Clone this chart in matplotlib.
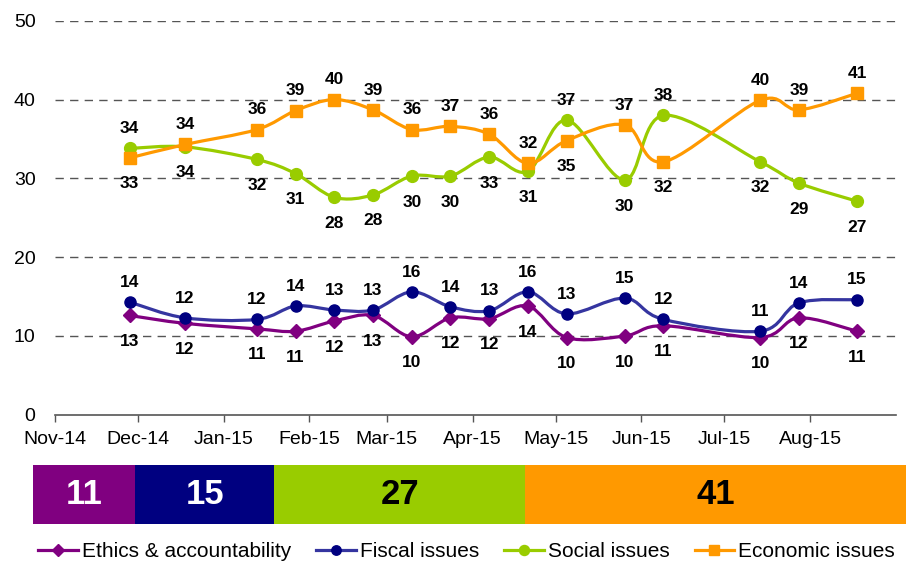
import matplotlib
matplotlib.use("Agg")
import matplotlib.pyplot as plt
import matplotlib.dates as mdates
import numpy as np
import pandas as pd
from matplotlib.path import Path
from matplotlib.patches import PathPatch
from matplotlib.lines import Line2D

plt.rcParams["font.family"] = ["Liberation Sans", "DejaVu Sans"]

# Fortnightly survey waves
dates = pd.to_datetime([
    "2014-11-28", "2014-12-18", "2015-01-13", "2015-01-27", "2015-02-10",
    "2015-02-24", "2015-03-10", "2015-03-24", "2015-04-07", "2015-04-21",
    "2015-05-05", "2015-05-26", "2015-06-09", "2015-07-14", "2015-07-28",
    "2015-08-18",
])

ethics = [12.6, 11.6, 10.9, 10.6, 11.9, 12.6, 9.9, 12.3, 12.2, 13.8,
          9.8, 10.0, 11.3, 9.8, 12.3, 10.6]
fiscal = [14.3, 12.3, 12.1, 13.8, 13.3, 13.3, 15.6, 13.7, 13.2, 15.6,
          12.8, 14.8, 12.1, 10.6, 14.2, 14.6]
social = [33.8, 34.0, 32.4, 30.6, 27.6, 27.9, 30.3, 30.3, 32.7, 30.9,
          37.4, 29.8, 38.0, 32.1, 29.4, 27.1]
economic = [32.6, 34.3, 36.2, 38.6, 40.0, 38.7, 36.2, 36.6, 35.6, 31.9,
            34.8, 36.8, 32.1, 39.9, 38.7, 40.8]

# label placement per point: +1 above the marker, -1 below
ethics_pos = [-1] * 16
fiscal_pos = [1] * 16
social_pos = [1, -1, -1, -1, -1, -1, -1, -1, -1, -1, 1, -1, 1, -1, -1, -1]
economic_pos = [-1, 1, 1, 1, 1, 1, 1, 1, 1, 1, -1, 1, -1, 1, 1, 1]

series_names = ["Ethics & accountability", "Fiscal issues",
                "Social issues", "Economic issues"]
latest_share = [11, 15, 27, 41]

month_ticks = pd.date_range("2014-11-01", "2015-08-01", freq="MS")


def smooth_path(x, y):
    """Catmull-Rom style smoothing expressed as cubic Bezier segments."""
    x = np.asarray(x, float)
    y = np.asarray(y, float)
    verts = [(x[0], y[0])]
    codes = [Path.MOVETO]
    n = len(x)
    for i in range(n - 1):
        x0, y0 = (x[i - 1], y[i - 1]) if i > 0 else (x[i], y[i])
        x3, y3 = (x[i + 2], y[i + 2]) if i + 2 < n else (x[i + 1], y[i + 1])
        c1 = (x[i] + (x[i + 1] - x0) / 6, y[i] + (y[i + 1] - y0) / 6)
        c2 = (x[i + 1] - (x3 - x[i]) / 6, y[i + 1] - (y3 - y[i]) / 6)
        verts += [c1, c2, (x[i + 1], y[i + 1])]
        codes += [Path.CURVE4] * 3
    return Path(verts, codes)


fig = plt.figure(figsize=(9.06, 5.62), dpi=100)
ax = fig.add_axes([0.0607, 0.262, 0.928, 0.701])

xnum = mdates.date2num(dates)
styles = [
    (ethics, ethics_pos, "#800080", "#800080", "D", 7.5),
    (fiscal, fiscal_pos, "#3535a0", "#000080", "o", 8),
    (social, social_pos, "#99cc00", "#99cc00", "o", 8.5),
    (economic, economic_pos, "#ff9900", "#ff9900", "s", 9),
]

handles = []
for (vals, pos, lcol, mcol, mk, ms), name in zip(styles, series_names):
    ax.add_patch(PathPatch(smooth_path(xnum, vals), fill=False,
                           edgecolor=lcol, lw=2.3, zorder=3))
    ax.plot(dates, vals, linestyle="none", marker=mk, ms=ms,
            color=mcol, zorder=4)
    for d, v, p in zip(dates, vals, pos):
        off = 11 if p > 0 else -22
        ax.annotate(f"{v:.0f}", (d, v), xytext=(0, off),
                    textcoords="offset points", ha="center", va="baseline",
                    fontsize=12.5, fontweight="bold", color="black",
                    zorder=5)
    handles.append(Line2D([], [], color=lcol, lw=2.3, marker=mk,
                          ms=ms * 0.85, markerfacecolor=mcol,
                          markeredgecolor=mcol))

ax.set_xlim(pd.Timestamp("2014-11-01"), pd.Timestamp("2015-09-01"))
ax.set_ylim(0, 50)
ax.set_yticks([0, 10, 20, 30, 40, 50])
for yv in [10, 20, 30, 40, 50]:
    ax.axhline(yv, color="#555555", lw=1, linestyle=(0, (6, 4.5)), zorder=1)

ax.set_xticks(month_ticks)
ax.xaxis.set_major_formatter(mdates.DateFormatter("%b-%y"))
ax.tick_params(axis="x", direction="out", length=5, width=1,
               color="#555555", labelsize=14, pad=7)
ax.tick_params(axis="y", length=0, labelsize=14, pad=14)
for side in ["left", "right", "top"]:
    ax.spines[side].set_visible(False)
ax.spines["bottom"].set_color("#555555")
ax.spines["bottom"].set_linewidth(1.2)

# Latest-wave shares as a single stacked strip
bax = fig.add_axes([0.0364, 0.0676, 0.9636, 0.105])
bar_colors = ["#800080", "#000080", "#99cc00", "#ff9900"]
text_colors = ["white", "white", "black", "black"]
left = 0
for val, col, tcol in zip(latest_share, bar_colors, text_colors):
    bax.barh(0, val, left=left, height=1, color=col, edgecolor="none")
    bax.text(left + val / 2, 0, f"{val}", ha="center", va="center",
             fontsize=25, fontweight="bold", color=tcol)
    left += val
bax.set_xlim(0, sum(latest_share))
bax.set_ylim(-0.5, 0.5)
bax.axis("off")

fig.legend(handles, series_names, loc="center", ncol=4,
           bbox_to_anchor=(0.515, 0.018), frameon=False, fontsize=15,
           handlelength=1.9, handletextpad=0.2, columnspacing=1.2,
           borderaxespad=0)

fig.savefig("out.png", dpi=100)
